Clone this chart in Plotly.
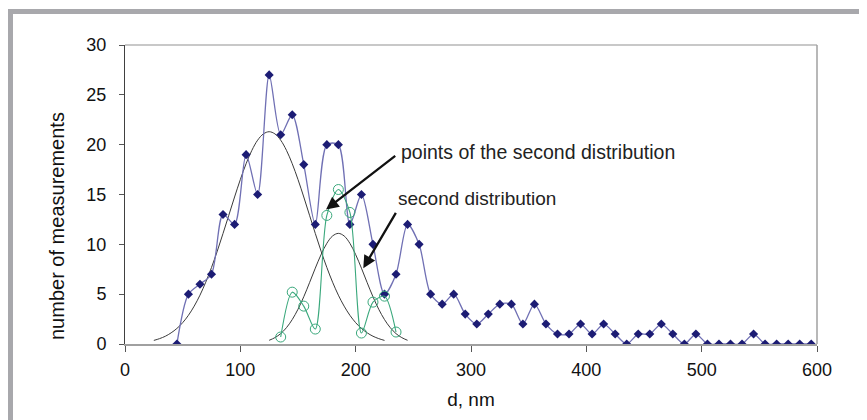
import plotly.graph_objects as go

# Measured distribution (blue)
d_meas = [45, 55, 65, 75, 85, 95, 105, 115, 125, 135, 145, 155, 165, 175, 185, 195,
          205, 215, 225, 235, 245, 255, 265, 275, 285, 295, 305, 315, 325, 335, 345,
          355, 365, 375, 385, 395, 405, 415, 425, 435, 445, 455, 465, 475, 485, 495,
          505, 515, 525, 535, 545, 555, 565, 575, 585, 595]
n_meas = [0, 5, 6, 7, 13, 12, 19, 15, 27, 21, 23, 18, 12, 20, 20, 12,
          15, 10, 5, 7, 12, 10, 5, 4, 5, 3, 2, 3, 4, 4, 2,
          4, 2, 1, 1, 2, 1, 2, 1, 0, 1, 1, 2, 1, 0, 1,
          0, 0, 0, 0, 1, 0, 0, 0, 0, 0]

# Points of the second distribution (green)
d_second_pts = [135, 145, 155, 165, 175, 185, 195, 205, 215, 225, 235]
n_second_pts = [0.7, 5.2, 3.8, 1.5, 12.9, 15.5, 13.2, 1.1, 4.2, 4.8, 1.2]

# First fitted distribution (black curve)
d_fit1 = [25, 30, 35, 40, 45, 50, 55, 60, 65, 70, 75, 80, 85, 90, 95, 100, 105, 110,
          115, 120, 125, 130, 135, 140, 145, 150, 155, 160, 165, 170, 175, 180, 185,
          190, 195, 200, 205, 210, 215, 220, 225]
n_fit1 = [0.36, 0.54, 0.78, 1.12, 1.56, 2.14, 2.88, 3.80, 4.90, 6.20, 7.68, 9.32,
          11.09, 12.92, 14.75, 16.50, 18.09, 19.43, 20.45, 21.08, 21.3, 21.08, 20.45,
          19.43, 18.09, 16.50, 14.75, 12.92, 11.09, 9.32, 7.68, 6.20, 4.90, 3.80, 2.88,
          2.14, 1.56, 1.12, 0.78, 0.54, 0.36]

# Second fitted distribution (black curve)
d_fit2 = [125, 130, 135, 140, 145, 150, 155, 160, 165, 170, 175, 180, 185, 190, 195,
          200, 205, 210, 215, 220, 225, 230, 235, 240, 245]
n_fit2 = [0.37, 0.64, 1.04, 1.64, 2.45, 3.49, 4.74, 6.15, 7.61, 8.97, 10.10, 10.84,
          11.1, 10.84, 10.10, 8.97, 7.61, 6.15, 4.74, 3.49, 2.45, 1.64, 1.04, 0.64, 0.37]

x_ticks = [0, 100, 200, 300, 400, 500, 600]
y_ticks = [0, 5, 10, 15, 20, 25, 30]

FONT = "Liberation Sans, Arial, sans-serif"

fig = go.Figure()
fig.add_trace(go.Scatter(x=d_fit1, y=n_fit1, mode="lines", line=dict(color="#3a3a3a", width=1, shape="spline"),
                         showlegend=False, hoverinfo="skip"))
fig.add_trace(go.Scatter(x=d_fit2, y=n_fit2, mode="lines", line=dict(color="#3a3a3a", width=1, shape="spline"),
                         showlegend=False, hoverinfo="skip"))
fig.add_trace(go.Scatter(x=d_meas, y=n_meas, mode="lines+markers",
                         line=dict(color="#7070b4", width=1.3, shape="spline", smoothing=0.8),
                         marker=dict(symbol="diamond", size=7, color="#1c1c74"),
                         showlegend=False))
fig.add_trace(go.Scatter(x=d_second_pts, y=n_second_pts, mode="lines+markers",
                         line=dict(color="#3aa87c", width=1.1, shape="spline", smoothing=0.8),
                         marker=dict(symbol="circle-open", size=10, color="#3aa87c", line=dict(width=1)),
                         showlegend=False))

# Arrows
fig.add_annotation(x=174.3, y=13.5, ax=235.6, ay=19.0, xref="x", yref="y", axref="x", ayref="y",
                   text="", showarrow=True, arrowhead=2, arrowsize=1.1, arrowwidth=2.3, arrowcolor="#111111")
fig.add_annotation(x=206.6, y=7.6, ax=235.6, ay=13.3, xref="x", yref="y", axref="x", ayref="y",
                   text="", showarrow=True, arrowhead=2, arrowsize=1.1, arrowwidth=2.3, arrowcolor="#111111")
fig.add_annotation(x=237.5, y=19.3, xref="x", yref="y", text="points of the second distribution",
                   showarrow=False, xanchor="left", yanchor="middle", font=dict(family=FONT, size=19.5, color="#222222"))
fig.add_annotation(x=235.0, y=14.6, xref="x", yref="y", text="second distribution",
                   showarrow=False, xanchor="left", yanchor="middle", font=dict(family=FONT, size=19, color="#222222"))

# Y axis title placed as text
W, H = 692.0, 299.0
def px(x):
    return (x - 125) / W
def py(y):
    return (344 - y) / H
fig.add_annotation(x=px(57), y=py(226), xref="paper", yref="paper", text="number of measurements",
                   textangle=-90, showarrow=False, xanchor="center", yanchor="middle",
                   font=dict(family=FONT, size=20, color="#111111"))

# Plot frame borders (top light, right gray)
fig.add_shape(type="line", xref="paper", yref="paper", x0=0, x1=1, y0=1, y1=1,
              line=dict(color="#c8c8c8", width=2))
fig.add_shape(type="line", xref="paper", yref="paper", x0=1, x1=1, y0=0, y1=1,
              line=dict(color="#a0a0a0", width=1.5))

# Outer gray page frame
fig.add_shape(type="rect", xref="paper", yref="paper", x0=px(8), x1=px(13), y0=py(425), y1=py(9),
              line=dict(width=0), fillcolor="#a8a8ac")
fig.add_shape(type="rect", xref="paper", yref="paper", x0=px(8), x1=px(880), y0=py(14), y1=py(9),
              line=dict(width=0), fillcolor="#a8a8ac")

# The page body has an 8px margin, so the figure starts at (8, 8)
fig.update_layout(
    width=859, height=412,
    margin=dict(l=117, r=50, t=37, b=76),
    paper_bgcolor="white", plot_bgcolor="white",
    font=dict(family=FONT, size=18, color="#111111"),
)
fig.update_xaxes(range=[0, 600], tickvals=x_ticks, ticktext=[str(v) for v in x_ticks],
                 showgrid=False, zeroline=False, showline=True, linecolor="#a0a0a0", linewidth=2,
                 ticks="outside", ticklen=6, tickcolor="#555555", tickwidth=1, ticklabelstandoff=2,
                 title=dict(text="d, nm", font=dict(family=FONT, size=19), standoff=14))
fig.update_yaxes(range=[0, 30], tickvals=y_ticks, ticktext=[str(v) for v in y_ticks],
                 showgrid=False, zeroline=False, showline=True, linecolor="#404040", linewidth=1,
                 ticks="outside", ticklen=5, tickcolor="#555555", tickwidth=1, ticklabelstandoff=9)

fig.write_html("out.html")
